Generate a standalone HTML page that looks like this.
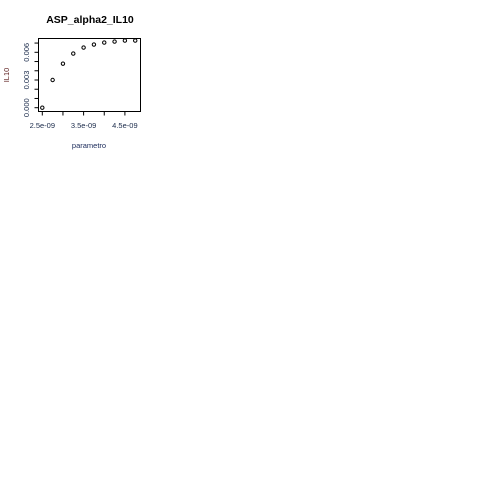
<!DOCTYPE html>
<html><head><meta charset="utf-8"><style>body{margin:0;background:#fff}svg{display:block}</style></head>
<body>
<svg width="480" height="480" xmlns="http://www.w3.org/2000/svg" font-family="Liberation Sans, sans-serif">
<script>
var xValues=[2.5e-9,2.75e-9,3.0e-9,3.25e-9,3.5e-9,3.75e-9,4.0e-9,4.25e-9,4.5e-9,4.75e-9];
var yValues=[0.0000,0.0030,0.00477,0.00586,0.00651,0.00684,0.00705,0.00716,0.00727,0.00727];
var xTicks=[2.5e-9,3.0e-9,3.5e-9,4.0e-9,4.5e-9];
var xTickLabels=["2.5e-09","","3.5e-09","","4.5e-09"];
var yTicks=[0,0.001,0.002,0.003,0.004,0.005,0.006,0.007];
var yTickLabels=["0.000","","","0.003","","","0.006",""];
</script>
<rect x="38.5" y="38.5" width="102" height="73" fill="none" stroke="#000" stroke-width="1"/>
<text x="90" y="23" font-size="10.5" font-weight="bold" text-anchor="middle">ASP_alpha2_IL10</text>
<text x="89" y="148" font-size="7.5" fill="#1a2a5a" text-anchor="middle">parametro</text>
<text transform="translate(9,75) rotate(-90)" font-size="7.5" fill="#5a1a1a" text-anchor="middle">IL10</text>
<g id="g"></g>
<script>
(function(){
var ns="http://www.w3.org/2000/svg",g=document.getElementById("g");
function sx(v){return 42.3+(v-2.5e-9)/1e-9*41.3;}
function sy(v){return 107.7-v/0.003*27.7;}
function mk(t,a){var e=document.createElementNS(ns,t);for(var k in a)e.setAttribute(k,a[k]);g.appendChild(e);return e;}
xTicks.forEach(function(v,i){
 var l=mk("line",{x1:sx(v),x2:sx(v),y1:111.5,y2:115.5,stroke:"#000"});
 
 
 if(xTickLabels[i]){var t=mk("text",{x:sx(v),y:128,"font-size":7.5,"text-anchor":"middle",fill:"#1a2a4a"});t.textContent=xTickLabels[i];
 
 }
});
yTicks.forEach(function(v,i){
 var l=mk("line",{x1:34.5,x2:38.5,y1:sy(v),y2:sy(v),stroke:"#000"});
 
 
 if(yTickLabels[i]){var t=mk("text",{transform:"translate(29,"+sy(v)+") rotate(-90)","font-size":7.5,"text-anchor":"middle",fill:"#1a2a4a"});t.textContent=yTickLabels[i];
 
 }
});
xValues.forEach(function(x,i){
 var c=mk("circle",{cx:sx(x),cy:sy(yValues[i]),r:1.7,fill:"none",stroke:"#000","stroke-width":1});
 
 
});
})();
</script>
</svg>
</body></html>
